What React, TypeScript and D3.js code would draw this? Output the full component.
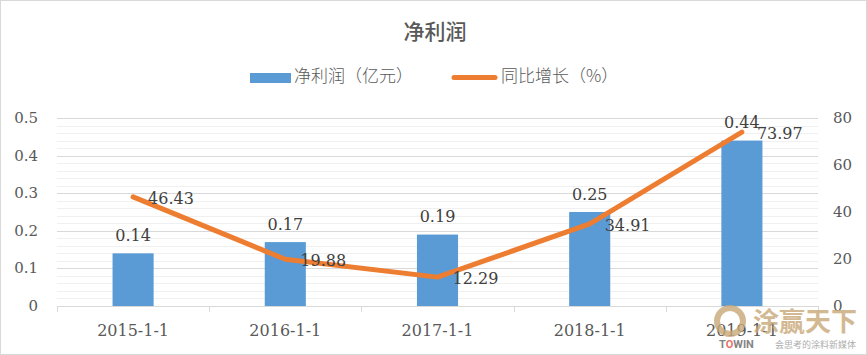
import React from "react";
import * as d3 from "d3";

const categories = ["2015-1-1", "2016-1-1", "2017-1-1", "2018-1-1", "2019-1-1"];
const profit = [0.14, 0.17, 0.19, 0.25, 0.44];
const growth = [46.43, 19.88, 12.29, 34.91, 73.97];
const leftTicks = [0, 0.1, 0.2, 0.3, 0.4, 0.5];
const rightTicks = [0, 20, 40, 60, 80];
const title = "净利润";
const legendBar = "净利润（亿元）";
const legendLine = "同比增长（%）";

const W = 867, H = 355;
const left = 57, right = 818, top = 118, bottom = 306;
const numFont = "DejaVu Serif, Liberation Serif, serif";
const cjkFont = "Noto Sans CJK SC, sans-serif";

export default function App() {
  const x = d3.scaleBand<string>().domain(categories).range([left, right]).padding(0);
  const yL = d3.scaleLinear().domain([0, 0.5]).range([bottom, top]);
  const yR = d3.scaleLinear().domain([0, 80]).range([bottom, top]);
  const bw = x.bandwidth() * 0.27;
  const minor = d3.range(0, 0.5001, 0.02);
  const line = d3.line<number>()
    .x((_, i) => (x(categories[i]) as number) + x.bandwidth() / 2)
    .y((d) => yR(d));
  return (
    <svg width={W} height={H} style={{ position: "absolute", left: 0, top: 0, background: "#fff" }}>
      <rect x={0.5} y={0.5} width={W - 1} height={H - 1} fill="#fff" stroke="#d9d9d9" />
      <text x={435} y={39} textAnchor="middle" fontFamily={cjkFont} fontWeight={500} fontSize={21} fill="#595959">{title}</text>
      {/* legend */}
      <rect x={250} y={73} width={41} height={10} fill="#5B9BD5" />
      <text x={294} y={82} fontFamily={cjkFont} fontWeight={300} fontSize={17} fill="#595959">{legendBar}</text>
      <line x1={454} x2={495} y1={77.5} y2={77.5} stroke="#ED7D31" strokeWidth={5} strokeLinecap="round" />
      <text x={501} y={82} fontFamily={cjkFont} fontWeight={300} fontSize={17} fill="#595959">{legendLine}</text>
      {/* minor grid */}
      {minor.map((v, i) => (
        <line key={"m" + i} x1={left} x2={right} y1={Math.round(yL(v)) + 0.5} y2={Math.round(yL(v)) + 0.5} stroke="#f0f0f0" />
      ))}
      {leftTicks.map((v) => (
        <line key={"g" + v} x1={left} x2={right} y1={Math.round(yL(v)) + 0.5} y2={Math.round(yL(v)) + 0.5} stroke="#d9d9d9" />
      ))}
      {/* category ticks */}
      {d3.range(categories.length + 1).map((i) => {
        const xx = Math.round(left + i * x.bandwidth()) + 0.5;
        return <line key={"t" + i} x1={xx} x2={xx} y1={bottom} y2={bottom + 6} stroke="#d9d9d9" />;
      })}
      {/* bars */}
      {profit.map((v, i) => {
        const cx = (x(categories[i]) as number) + x.bandwidth() / 2;
        return (
          <g key={"b" + i}>
            <rect x={cx - bw / 2} y={yL(v)} width={bw} height={bottom - yL(v)} fill="#5B9BD5" />
            <text x={cx} y={yL(v) - 12.5} textAnchor="middle" fontFamily={numFont} fontSize={16} fill="#404040">{v}</text>
          </g>
        );
      })}
      <path d={line(growth) || ""} fill="none" stroke="#ED7D31" strokeWidth={5} strokeLinecap="round" strokeLinejoin="round" />
      {growth.map((v, i) => {
        const cx = (x(categories[i]) as number) + x.bandwidth() / 2;
        return (
          <text key={"l" + i} x={cx + 15} y={yR(v) + 7} fontFamily={numFont} fontSize={16} fill="#404040">{v}</text>
        );
      })}
      {/* axes labels */}
      {leftTicks.map((v) => (
        <text key={"yl" + v} x={38} y={yL(v) + 5} textAnchor="end" fontFamily={numFont} fontSize={15} fill="#595959">{v}</text>
      ))}
      {rightTicks.map((v) => (
        <text key={"yr" + v} x={833} y={yR(v) + 5} textAnchor="start" fontFamily={numFont} fontSize={15} fill="#595959">{v}</text>
      ))}
      {categories.map((c) => (
        <text key={"c" + c} x={(x(c) as number) + x.bandwidth() / 2} y={336} textAnchor="middle" fontFamily={numFont} fontSize={16} fill="#595959">{c}</text>
      ))}
      {/* watermark */}
      <g opacity={0.8}>
        <circle cx={730} cy={321} r={13} fill="none" stroke="#c9a877" strokeWidth={6} />
        <text x={753} y={331} fontFamily={cjkFont} fontSize={26} fill="#c9a877" fontWeight="bold">涂赢天下</text>
        <text x={719} y={348} fontFamily="Roboto, sans-serif" fontSize={11} fontWeight="bold" fill="#666">
          T<tspan fill="#e0504a">O</tspan>WIN
        </text>
        <text x={775} y={348} fontFamily={cjkFont} fontSize={9} fill="#999">会思考的涂料新媒体</text>
      </g>
    </svg>
  );
}
